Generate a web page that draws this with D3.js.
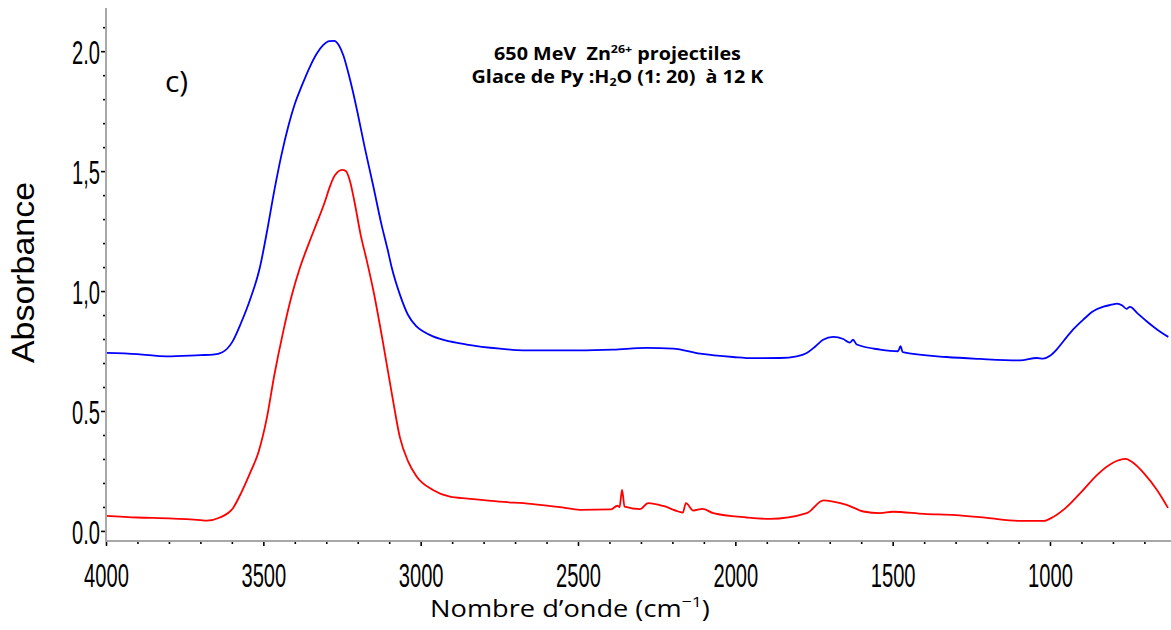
<!DOCTYPE html>
<html><head><meta charset="utf-8">
<script src="https://cdn.jsdelivr.net/npm/d3@7"></script>
<style>body{margin:0;background:#fff} svg{display:block} text{white-space:pre}</style>
</head><body>
<svg id="c" width="1171" height="630"></svg>
<script>
// ---- data ----
const blueWavenumber = [4000,3900,3807,3700,3660,3630,3600,3570,3542,3511,3489,3465,3442,3420,3400,3378,3352,3330,3310,3290,3275,3260,3245,3230,3215,3200,3178,3151,3125,3105,3092,3066,3040,3015,2990,2961,2907,2854,2748,2675,2500,2389,2282,2198,2112,2007,1944,1858,1805,1773,1745,1721,1689,1657,1636,1626,1614,1540,1483,1475,1468,1329,1222,1095,1042,1022,1000,979,955,927,895,863,830,800,788,770,757,746,720,693,660,624];
const blueAbsorbance = [0.742,0.737,0.728,0.733,0.735,0.745,0.785,0.87,0.965,1.098,1.244,1.42,1.57,1.69,1.78,1.855,1.935,1.99,2.025,2.042,2.043,2.025,1.98,1.91,1.83,1.74,1.60,1.44,1.28,1.173,1.098,0.985,0.90,0.855,0.83,0.811,0.79,0.777,0.76,0.753,0.753,0.756,0.763,0.76,0.739,0.725,0.72,0.721,0.728,0.742,0.77,0.797,0.809,0.80,0.785,0.797,0.777,0.756,0.749,0.77,0.745,0.725,0.717,0.711,0.721,0.718,0.73,0.756,0.795,0.839,0.88,0.916,0.935,0.944,0.948,0.94,0.926,0.934,0.905,0.874,0.84,0.809];

const redWavenumber = [4000,3900,3800,3700,3680,3640,3596,3570,3542,3515,3489,3465,3437,3410,3383,3355,3330,3305,3290,3278,3265,3250,3238,3225,3210,3190,3172,3150,3119,3090,3066,3040,3013,2961,2907,2850,2750,2650,2550,2494,2395,2375,2368,2360,2352,2303,2277,2229,2181,2167,2157,2134,2104,2070,1964,1890,1773,1720,1689,1646,1593,1540,1500,1400,1300,1200,1100,1020,990,950,900,850,800,760,740,700,660,625];
const redAbsorbance = [0.063,0.056,0.052,0.045,0.043,0.055,0.096,0.16,0.242,0.33,0.47,0.65,0.83,0.98,1.10,1.20,1.284,1.37,1.43,1.47,1.495,1.505,1.50,1.46,1.37,1.23,1.131,1.0,0.78,0.56,0.39,0.29,0.227,0.171,0.143,0.135,0.122,0.113,0.098,0.088,0.09,0.105,0.099,0.171,0.101,0.091,0.116,0.104,0.081,0.076,0.116,0.085,0.092,0.074,0.056,0.05,0.074,0.127,0.122,0.109,0.081,0.074,0.08,0.071,0.066,0.054,0.042,0.042,0.058,0.096,0.163,0.234,0.284,0.30,0.288,0.238,0.171,0.096];

const xTickValues = [4000,3500,3000,2500,2000,1500,1000];
const xTickLabels = ["4000","3500","3000","2500","2000","1500","1000"];
const yTickValues = [0,0.5,1,1.5,2];
const yTickLabels = ["0.0","0.5","1,0","1,5","2.0"];

const titleLine1 = ["650 MeV  Zn","26+"," projectiles"];
const titleLine2 = ["Glace de Py :H","2","O (1: 20)  à 12 K"];
const panelLabel = "c)";
const yAxisTitle = "Absorbance";
const xAxisTitle = ["Nombre d\u2019onde (cm","\u22121",")"];

// ---- layout ----
const svg = d3.select("#c");
const x = d3.scaleLinear().domain([4000, 625]).range([106, 1168]);
const y = d3.scaleLinear().domain([-0.042, 2.18]).range([541, 8]);
const X0 = 106, Y0 = 541;
const SX = 0.61;

// plot lines
const line = d3.line().x(d => x(d[0])).y(d => y(d[1])).curve(d3.curveMonotoneX);
svg.append("path").datum(blueWavenumber.map((w,i)=>[w,blueAbsorbance[i]]))
  .attr("d", line).attr("fill","none").attr("stroke","#0000ff").attr("stroke-width",1.8);
svg.append("path").datum(redWavenumber.map((w,i)=>[w,redAbsorbance[i]]))
  .attr("d", line).attr("fill","none").attr("stroke","#ff0000").attr("stroke-width",1.8);

// x axis minor
const xMinor = d3.range(4000, 624, -100).filter(v => !xTickValues.includes(v));
svg.append("g").attr("transform",`translate(0,${Y0})`)
  .call(d3.axisBottom(x).tickValues(xMinor).tickSize(3).tickFormat(""))
  .call(g => { g.select(".domain").remove(); g.selectAll("line").attr("stroke","#000").attr("stroke-width",1.6); });
// x axis major
const gx = svg.append("g").attr("transform",`translate(0,${Y0})`)
  .call(d3.axisBottom(x).tickValues(xTickValues).tickSize(5).tickFormat((d,i)=>xTickLabels[i]));
gx.select(".domain").remove();
gx.selectAll("line").attr("stroke","#000").attr("stroke-width",1.6);
gx.selectAll("text").attr("dy",null).attr("y",46).attr("fill","#000")
  .attr("font-family","Liberation Sans").attr("font-size",33)
  .attr("transform",`scale(${SX},1)`);

// y axis minor
const yMinor = d3.range(0, 2.15, 0.1).map(v=>+v.toFixed(1)).filter(v => !yTickValues.includes(v));
svg.append("g").attr("transform",`translate(${X0},0)`)
  .call(d3.axisLeft(y).tickValues(yMinor).tickSize(3).tickFormat(""))
  .call(g => { g.select(".domain").remove(); g.selectAll("line").attr("stroke","#000").attr("stroke-width",1.6); });
const gy = svg.append("g").attr("transform",`translate(${X0},0)`)
  .call(d3.axisLeft(y).tickValues(yTickValues).tickSize(5).tickFormat((d,i)=>yTickLabels[i]));
gy.select(".domain").remove();
gy.selectAll("line").attr("stroke","#000").attr("stroke-width",1.6);
gy.selectAll("text").attr("dy",null).attr("y",12.5).attr("x",-6/SX).attr("fill","#000")
  .attr("font-family","Liberation Sans").attr("font-size",33)
  .attr("transform",`scale(${SX},1)`);

// axis lines (gray)
svg.append("line").attr("x1",X0).attr("x2",X0).attr("y1",y(2.18)).attr("y2",Y0)
  .attr("stroke","#a8a8a8").attr("stroke-width",2);
svg.append("line").attr("x1",X0).attr("x2",1171).attr("y1",Y0).attr("y2",Y0)
  .attr("stroke","#a8a8a8").attr("stroke-width",2.2);

// helper to fit text width
function fit(sel, cx, base, width) {
  const w = sel.node().getComputedTextLength();
  const s = width / w;
  sel.attr("transform", `translate(${cx},${base}) scale(${s},1) translate(${-cx},${-base})`);
}

// title
const t1 = svg.append("text").attr("x",617.5).attr("y",60).attr("text-anchor","middle")
  .attr("font-family","Open Sans").attr("font-weight","bold").attr("font-size",17.5).attr("fill","#000");
t1.append("tspan").text(titleLine1[0]);
t1.append("tspan").attr("font-size",11).attr("dy",-7).text(titleLine1[1]);
t1.append("tspan").attr("dy",7).text(titleLine1[2]);
fit(t1, 617.5, 60, 247);

const t2 = svg.append("text").attr("x",617.5).attr("y",83.5).attr("text-anchor","middle")
  .attr("font-family","Open Sans").attr("font-weight","bold").attr("font-size",17.5).attr("fill","#000");
t2.append("tspan").text(titleLine2[0]);
t2.append("tspan").attr("font-size",11).attr("dy",3).text(titleLine2[1]);
t2.append("tspan").attr("dy",-3).text(titleLine2[2]);
fit(t2, 617.5, 83.5, 292);

// panel label
svg.append("text").attr("x",165).attr("y",92).attr("font-family","Open Sans")
  .attr("font-size",30).attr("fill","#000").text(panelLabel);

// y axis title
const yt = svg.append("text").attr("transform","translate(33.5,272.5) rotate(-90)")
  .attr("text-anchor","middle").attr("font-family","Liberation Sans").attr("font-size",30.5)
  .attr("fill","#000").text(yAxisTitle);
yt.attr("textLength",181).attr("lengthAdjust","spacingAndGlyphs");

// x axis title
const xt = svg.append("text").attr("x",570).attr("y",617).attr("text-anchor","middle")
  .attr("font-family","Open Sans").attr("font-size",23).attr("fill","#000");
xt.append("tspan").text(xAxisTitle[0]);
xt.append("tspan").attr("font-size",15).attr("dy",-10).text(xAxisTitle[1]);
xt.append("tspan").attr("dy",10).text(xAxisTitle[2]);
fit(xt, 570, 617, 280);
</script>
</body></html>
